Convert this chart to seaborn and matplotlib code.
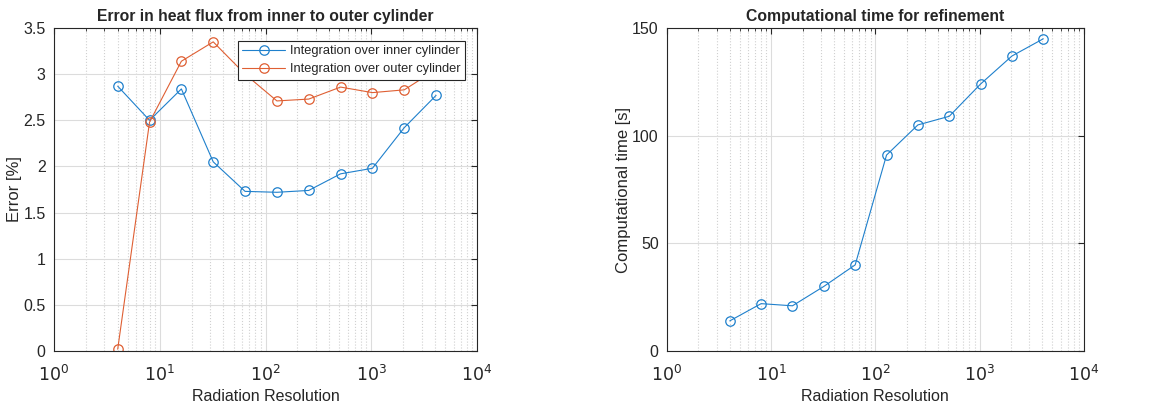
import numpy as np
import pandas as pd
import matplotlib
matplotlib.use("Agg")
import matplotlib.pyplot as plt
import seaborn as sns

# data
resolution = [4, 8, 16, 32, 64, 128, 256, 512, 1024, 2048, 4096]
err_inner = [2.87, 2.50, 2.84, 2.05, 1.73, 1.72, 1.74, 1.92, 1.98, 2.42, 2.77]
err_outer = [0.02, 2.48, 3.14, 3.35, 3.00, 2.71, 2.73, 2.86, 2.80, 2.83, 3.05]
comp_time = [14, 22, 21, 30, 40, 91, 105, 109, 124, 137, 145]

blue = "#1f80cc"
orange = "#df5f33"

sns.set_style("white")
plt.rcParams["font.family"] = ["Liberation Sans", "DejaVu Sans"]

fig = plt.figure(figsize=(11.67, 4.12), dpi=100)
ax1 = fig.add_axes([0.0463, 0.148, 0.3625, 0.784])
ax2 = fig.add_axes([0.5716, 0.148, 0.357, 0.784])

line_kw = dict(marker="o", markersize=6.8, markerfacecolor="none", linewidth=0.8,
               markeredgewidth=0.9)

sns.lineplot(x=resolution, y=err_inner, ax=ax1, color=blue, markeredgecolor=blue,
             label="Integration over inner cylinder", **line_kw)
sns.lineplot(x=resolution, y=err_outer, ax=ax1, color=orange, markeredgecolor=orange,
             label="Integration over outer cylinder", **line_kw)
sns.lineplot(x=resolution, y=comp_time, ax=ax2, color=blue, markeredgecolor=blue, **line_kw)

def style(ax, ylim, yticks, ylabel, title):
    ax.set_xscale("log")
    ax.set_xlim(1, 1e4)
    ax.set_ylim(*ylim)
    ax.set_yticks(yticks)
    ax.set_xticks([1, 10, 100, 1000, 10000])
    ax.set_xticklabels(["$10^{0}$", "$10^{1}$", "$10^{2}$", "$10^{3}$", "$10^{4}$"])
    ax.xaxis.set_minor_locator(matplotlib.ticker.LogLocator(base=10, subs=np.arange(2, 10)))
    ax.xaxis.set_minor_formatter(matplotlib.ticker.NullFormatter())
    ax.grid(True, which="major", color="#dcdcdc", linewidth=0.8)
    ax.grid(True, which="minor", axis="x", color="#d0d0d0", linestyle=":", linewidth=0.8)
    ax.set_axisbelow(True)
    ax.tick_params(which="both", direction="in", top=True, right=True, colors="#262626",
                   labelsize=11.5, length=4)
    ax.tick_params(which="minor", length=2)
    ax.tick_params(axis="x", which="major", pad=9, labelsize=12.5)
    ax.tick_params(axis="y", which="major", pad=6)
    for s in ax.spines.values():
        s.set_color("#262626")
        s.set_linewidth(0.8)
    ax.set_xlabel("Radiation Resolution", fontsize=11.5, color="#262626", labelpad=4)
    ax.set_ylabel(ylabel, fontsize=12, color="#262626", labelpad=1)
    ax.set_title(title, fontsize=11.3, fontweight="bold", pad=5)

style(ax1, (0, 3.5), [0, 0.5, 1, 1.5, 2, 2.5, 3, 3.5], "Error [%]",
      "Error in heat flux from inner to outer cylinder")
ax1.set_yticklabels(["0", "0.5", "1", "1.5", "2", "2.5", "3", "3.5"])
style(ax2, (0, 150), [0, 50, 100, 150], "Computational time [s]",
      "Computational time for refinement")

leg = ax1.legend(loc="upper right", bbox_to_anchor=(0.972, 0.96), fontsize=9.3,
                 frameon=True, fancybox=False, edgecolor="#262626", framealpha=1,
                 borderpad=0.35, handlelength=3.3, handletextpad=0.4,
                 labelspacing=0.45, borderaxespad=0)
leg.get_frame().set_linewidth(0.8)

fig.savefig("out.png", dpi=100)
